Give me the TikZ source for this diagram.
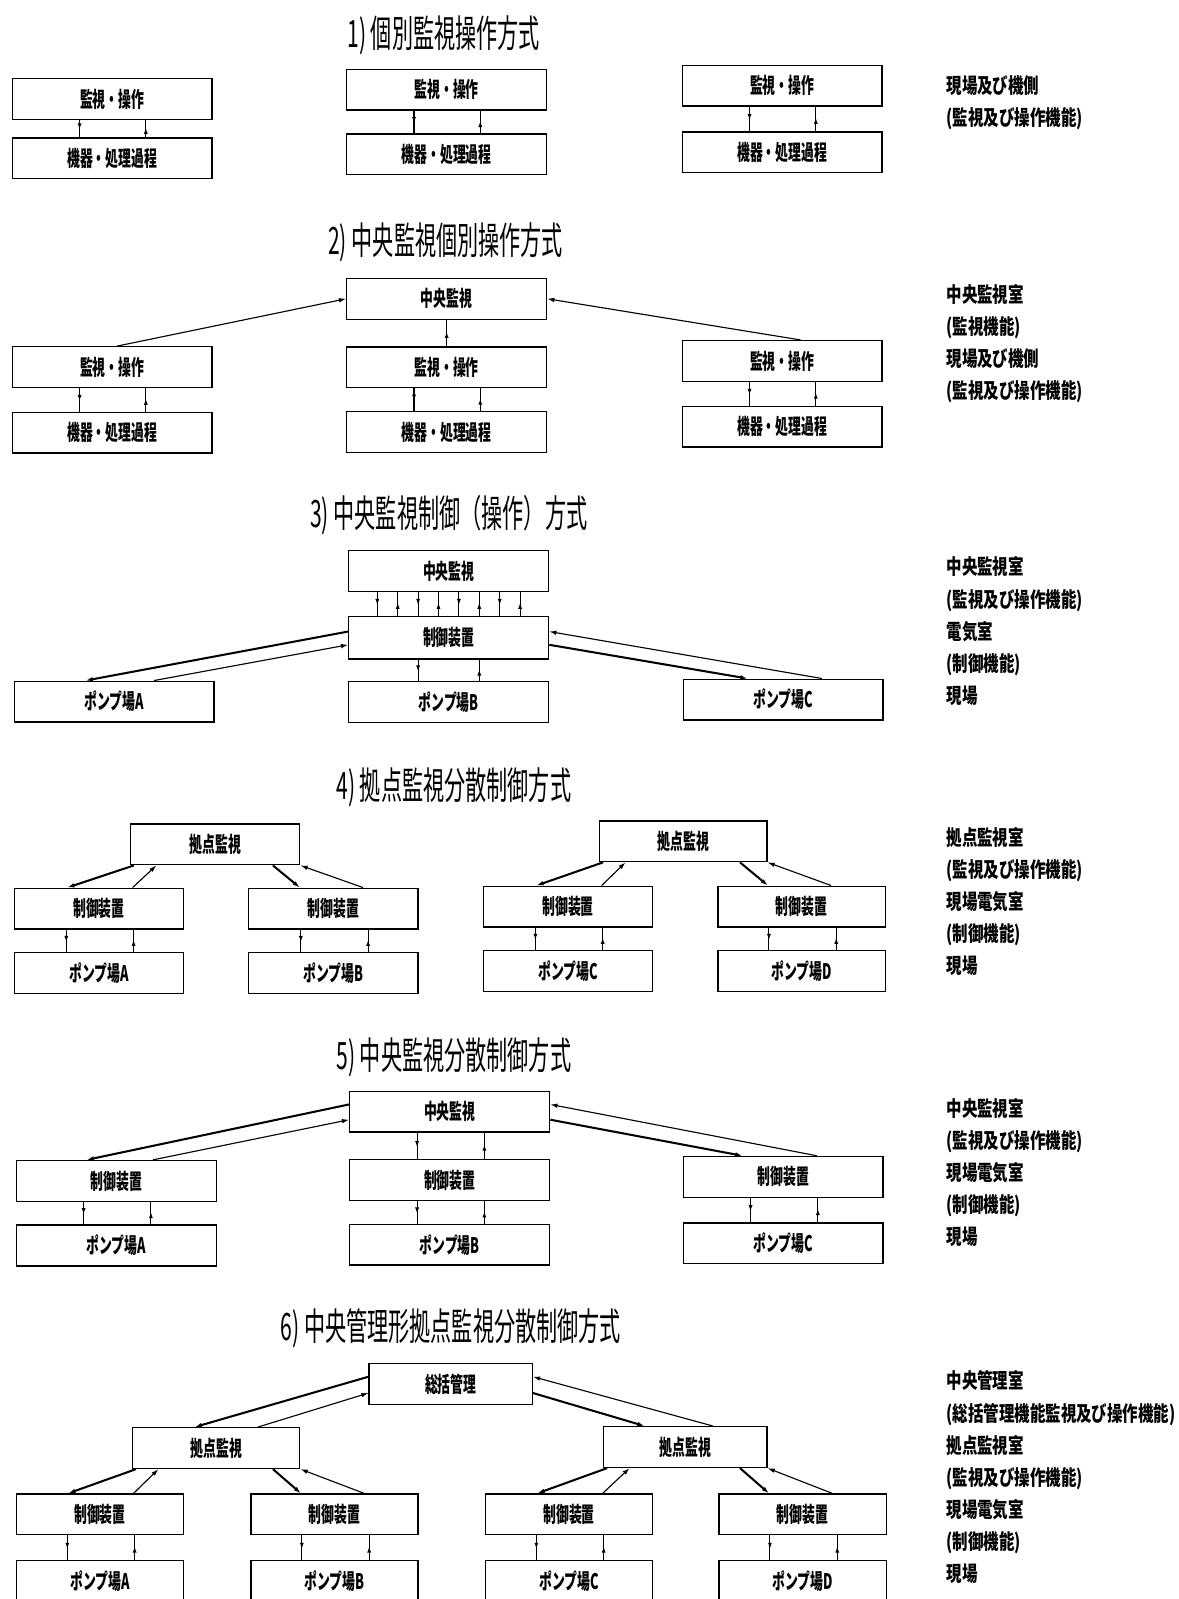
\documentclass[tikz,border=0pt]{standalone}
\usepackage{fontspec}
\usepackage{tikz}
\usetikzlibrary{arrows.meta,positioning,decorations.markings}
\newfontfamily\boxfont[FakeStretch=0.6]{Noto Sans CJK JP}
\newfontfamily\titlefont[FakeStretch=0.56]{Noto Sans CJK JP}
\newfontfamily\notefont[FakeStretch=0.74]{Noto Sans CJK JP}
\tikzset{
  unitbox/.style={draw=black,line width=1.3pt,minimum width=196pt,minimum height=40pt,
    inner sep=0pt,font={\boxfont\bfseries\fontsize{21}{23}\selectfont}},
  hubbox/.style={unitbox,minimum width=166pt},
  topbox/.style={unitbox,minimum width=160pt},
  titletext/.style={font={\titlefont\fontsize{37}{39}\selectfont},inner sep=0pt},
  roomnote/.style={font={\notefont\bfseries\fontsize{20.5}{31.5}\selectfont},align=left,
    anchor=north west,inner sep=0pt},
  sigline/.style={draw=black,line width=1.1pt},
  midsig/.style={sigline,postaction={decorate},decoration={markings,
    mark=at position 0.55 with {\arrow{Latex[length=6pt,width=4pt]}}}},
  endsig/.style={sigline,-{Latex[length=7pt,width=4.5pt]}},
  cmdsig/.style={endsig,line width=2pt}
}
\begin{document}
\begin{tikzpicture}[x=1pt,y=-1pt,node distance=22pt]
  \useasboundingbox (0,0) rectangle (1156,1568);
  % 1) individual
  \node[titletext] (title1) at (435,35) {1) 個別監視操作方式};
  \node[unitbox] (op1a) at (110,97) {監視・操作};
  \node[unitbox,below=17pt of op1a] (eq1a) {機器・処理過程};
  \node[unitbox] (op1b) at (438,88) {監視・操作};
  \node[unitbox,below=of op1b] (eq1b) {機器・処理過程};
  \node[unitbox] (op1c) at (767,84) {監視・操作};
  \node[unitbox,below=24pt of op1c] (eq1c) {機器・処理過程};
  \node[roomnote] (room1) at (928,74) {現場及び機側\\(監視及び操作機能)};
  \draw[midsig] ([xshift=-32pt]op1a.south) -- ([xshift=-32pt]eq1a.north);
  \draw[midsig] ([xshift=33pt]eq1a.north) -- ([xshift=33pt]op1a.south);
  \draw[midsig] ([xshift=-32pt]op1b.south) -- ([xshift=-32pt]eq1b.north);
  \draw[midsig] ([xshift=33pt]eq1b.north) -- ([xshift=33pt]op1b.south);
  \draw[midsig] ([xshift=-32pt]op1c.south) -- ([xshift=-32pt]eq1c.north);
  \draw[midsig] ([xshift=33pt]eq1c.north) -- ([xshift=33pt]op1c.south);

  % 2) central monitoring
  \node[titletext] (title2) at (437,238) {2) 中央監視個別操作方式};
  \node[unitbox] (cen2) at (438,293) {中央監視};
  \node[unitbox,below=26pt of cen2] (op2b) {監視・操作};
  \node[unitbox,below=of op2b] (eq2b) {機器・処理過程};
  \node[unitbox] (op2a) at (110,360) {監視・操作};
  \node[unitbox,below=23pt of op2a] (eq2a) {機器・処理過程};
  \node[unitbox] (op2c) at (767,354) {監視・操作};
  \node[unitbox,below=23pt of op2c] (eq2c) {機器・処理過程};
  \node[roomnote] (room2) at (928,279) {中央監視室\\(監視機能)\\現場及び機側\\(監視及び操作機能)};
  \draw[endsig] ([xshift=5pt]op2a.north) -- (cen2.west);
  \draw[endsig] ([xshift=18pt]op2c.north) -- (cen2.east);
  \draw[midsig] (op2b.north) -- (cen2.south);
  \draw[midsig] ([xshift=-32pt]op2a.south) -- ([xshift=-32pt]eq2a.north);
  \draw[midsig] ([xshift=33pt]eq2a.north) -- ([xshift=33pt]op2a.south);
  \draw[midsig] ([xshift=-32pt]op2b.south) -- ([xshift=-32pt]eq2b.north);
  \draw[midsig] ([xshift=33pt]eq2b.north) -- ([xshift=33pt]op2b.south);
  \draw[midsig] ([xshift=-32pt]op2c.south) -- ([xshift=-32pt]eq2c.north);
  \draw[midsig] ([xshift=33pt]eq2c.north) -- ([xshift=33pt]op2c.south);

  % 3) central monitoring and control
  \node[titletext] (title3) at (440,505) {3) 中央監視制御（操作）方式};
  \node[unitbox] (cen3) at (440,560) {中央監視};
  \node[unitbox,minimum height=42pt,below=23pt of cen3] (ctl3) {制御装置};
  \node[unitbox,below=21pt of ctl3] (pmp3b) {ポンプ場B};
  \node[unitbox] (pmp3a) at (112,688) {ポンプ場A};
  \node[unitbox] (pmp3c) at (768,686) {ポンプ場C};
  \node[roomnote] (room3) at (928,546) {中央監視室\\(監視及び操作機能)\\電気室\\(制御機能)\\現場};
  \draw[midsig] ([xshift=-70pt]cen3.south) -- ([xshift=-70pt]ctl3.north);
  \draw[midsig] ([xshift=-50pt]ctl3.north) -- ([xshift=-50pt]cen3.south);
  \draw[midsig] ([xshift=-30pt]cen3.south) -- ([xshift=-30pt]ctl3.north);
  \draw[midsig] ([xshift=-10pt]ctl3.north) -- ([xshift=-10pt]cen3.south);
  \draw[midsig] ([xshift=10pt]cen3.south) -- ([xshift=10pt]ctl3.north);
  \draw[midsig] ([xshift=30pt]ctl3.north) -- ([xshift=30pt]cen3.south);
  \draw[midsig] ([xshift=50pt]cen3.south) -- ([xshift=50pt]ctl3.north);
  \draw[midsig] ([xshift=70pt]ctl3.north) -- ([xshift=70pt]cen3.south);
  \draw[cmdsig] ([yshift=6pt]ctl3.west) -- ([xshift=-28pt]pmp3a.north);
  \draw[endsig] ([xshift=39pt]pmp3a.north) -- ([yshift=-7pt]ctl3.west);
  \draw[endsig] ([xshift=38pt]pmp3c.north) -- ([yshift=6pt]ctl3.east);
  \draw[cmdsig] ([yshift=-7pt]ctl3.east) -- ([xshift=-35pt]pmp3c.north);
  \draw[midsig] ([xshift=-30pt]ctl3.south) -- ([xshift=-30pt]pmp3b.north);
  \draw[midsig] ([xshift=30pt]pmp3b.north) -- ([xshift=30pt]ctl3.south);

  % 4) local-base monitoring
  \node[titletext] (title4) at (445,772) {4) 拠点監視分散制御方式};
  \node[hubbox] (hub4a) at (211,828) {拠点監視};
  \node[hubbox,minimum width=164pt] (hub4b) at (670,825) {拠点監視};
  \node[hubbox] (ctl4a) at (97,891) {制御装置};
  \node[hubbox] (ctl4b) at (327,891) {制御装置};
  \node[hubbox] (ctl4c) at (557,889) {制御装置};
  \node[hubbox,minimum width=164pt] (ctl4d) at (786,889) {制御装置};
  \node[hubbox,below=of ctl4a] (pmp4a) {ポンプ場A};
  \node[hubbox,below=of ctl4b] (pmp4b) {ポンプ場B};
  \node[hubbox,below=of ctl4c] (pmp4c) {ポンプ場C};
  \node[hubbox,minimum width=164pt,below=of ctl4d] (pmp4d) {ポンプ場D};
  \node[roomnote] (room4) at (928,811) {拠点監視室\\(監視及び操作機能)\\現場電気室\\(制御機能)\\現場};
  \draw[cmdsig] ([xshift=4pt]hub4a.south west) -- ([xshift=-31pt]ctl4a.north);
  \draw[endsig] ([xshift=33pt]ctl4a.north) -- ([xshift=26pt]hub4a.south west);
  \draw[cmdsig] ([xshift=-27pt]hub4a.south east) -- ([xshift=-33pt]ctl4b.north);
  \draw[endsig] ([xshift=29pt]ctl4b.north) -- (hub4a.south east);
  \draw[cmdsig] ([xshift=4pt]hub4b.south west) -- ([xshift=-31pt]ctl4c.north);
  \draw[endsig] ([xshift=33pt]ctl4c.north) -- ([xshift=26pt]hub4b.south west);
  \draw[cmdsig] ([xshift=-27pt]hub4b.south east) -- ([xshift=-33pt]ctl4d.north);
  \draw[endsig] ([xshift=29pt]ctl4d.north) -- (hub4b.south east);
  \draw[midsig] ([xshift=-32pt]ctl4a.south) -- ([xshift=-32pt]pmp4a.north);
  \draw[midsig] ([xshift=34pt]pmp4a.north) -- ([xshift=34pt]ctl4a.south);
  \draw[midsig] ([xshift=-32pt]ctl4b.south) -- ([xshift=-32pt]pmp4b.north);
  \draw[midsig] ([xshift=34pt]pmp4b.north) -- ([xshift=34pt]ctl4b.south);
  \draw[midsig] ([xshift=-32pt]ctl4c.south) -- ([xshift=-32pt]pmp4c.north);
  \draw[midsig] ([xshift=34pt]pmp4c.north) -- ([xshift=34pt]ctl4c.south);
  \draw[midsig] ([xshift=-32pt]ctl4d.south) -- ([xshift=-32pt]pmp4d.north);
  \draw[midsig] ([xshift=34pt]pmp4d.north) -- ([xshift=34pt]ctl4d.south);

  % 5) central monitoring, distributed control
  \node[titletext] (title5) at (445,1037) {5) 中央監視分散制御方式};
  \node[unitbox] (cen5) at (441,1090) {中央監視};
  \node[unitbox,below=26pt of cen5] (ctl5b) {制御装置};
  \node[unitbox,below=of ctl5b] (pmp5b) {ポンプ場B};
  \node[unitbox] (ctl5a) at (114,1158) {制御装置};
  \node[unitbox,below=of ctl5a] (pmp5a) {ポンプ場A};
  \node[unitbox] (ctl5c) at (768,1154) {制御装置};
  \node[unitbox,below=24pt of ctl5c] (pmp5c) {ポンプ場C};
  \node[roomnote] (room5) at (928,1077) {中央監視室\\(監視及び操作機能)\\現場電気室\\(制御機能)\\現場};
  \draw[cmdsig] ([yshift=7pt]cen5.west) -- ([xshift=-29pt]ctl5a.north);
  \draw[endsig] ([xshift=36pt]ctl5a.north) -- ([yshift=-8pt]cen5.west);
  \draw[endsig] ([xshift=33pt]ctl5c.north) -- ([yshift=7pt]cen5.east);
  \draw[cmdsig] ([yshift=-8pt]cen5.east) -- ([xshift=-40pt]ctl5c.north);
  \draw[midsig] ([xshift=-32pt]cen5.south) -- ([xshift=-32pt]ctl5b.north);
  \draw[midsig] ([xshift=34pt]ctl5b.north) -- ([xshift=34pt]cen5.south);
  \draw[midsig] ([xshift=-32pt]ctl5a.south) -- ([xshift=-32pt]pmp5a.north);
  \draw[midsig] ([xshift=34pt]pmp5a.north) -- ([xshift=34pt]ctl5a.south);
  \draw[midsig] ([xshift=-32pt]ctl5b.south) -- ([xshift=-32pt]pmp5b.north);
  \draw[midsig] ([xshift=34pt]pmp5b.north) -- ([xshift=34pt]ctl5b.south);
  \draw[midsig] ([xshift=-32pt]ctl5c.south) -- ([xshift=-32pt]pmp5c.north);
  \draw[midsig] ([xshift=34pt]pmp5c.north) -- ([xshift=34pt]ctl5c.south);

  % 6) central management with local bases
  \node[titletext] (title6) at (442,1302) {6) 中央管理形拠点監視分散制御方式};
  \node[topbox] (top6) at (442,1357) {総括管理};
  \node[hubbox,minimum width=164pt] (hub6a) at (212,1420) {拠点監視};
  \node[topbox] (hub6b) at (672,1419) {拠点監視};
  \node[hubbox,minimum width=164pt] (ctl6a) at (98,1485) {制御装置};
  \node[hubbox,minimum width=164pt] (ctl6b) at (328,1485) {制御装置};
  \node[hubbox,minimum width=164pt] (ctl6c) at (558,1485) {制御装置};
  \node[hubbox,minimum width=164pt] (ctl6d) at (787,1485) {制御装置};
  \node[hubbox,minimum width=164pt,below=24pt of ctl6a] (pmp6a) {ポンプ場A};
  \node[hubbox,minimum width=164pt,below=24pt of ctl6b] (pmp6b) {ポンプ場B};
  \node[hubbox,minimum width=164pt,below=24pt of ctl6c] (pmp6c) {ポンプ場C};
  \node[hubbox,minimum width=164pt,below=24pt of ctl6d] (pmp6d) {ポンプ場D};
  \node[roomnote] (room6) at (928,1344) {中央管理室\\(総括管理機能監視及び操作機能)\\拠点監視室\\(監視及び操作機能)\\現場電気室\\(制御機能)\\現場};
  \draw[cmdsig] ([yshift=7pt]top6.west) -- ([xshift=-21pt]hub6a.north);
  \draw[endsig] ([xshift=41pt]hub6a.north) -- ([yshift=-9pt]top6.west);
  \draw[endsig] ([xshift=27pt]hub6b.north) -- ([yshift=7pt]top6.east);
  \draw[cmdsig] ([yshift=-9pt]top6.east) -- ([xshift=-40pt]hub6b.north);
  \draw[cmdsig] ([xshift=4pt]hub6a.south west) -- ([xshift=-31pt]ctl6a.north);
  \draw[endsig] ([xshift=33pt]ctl6a.north) -- ([xshift=26pt]hub6a.south west);
  \draw[cmdsig] ([xshift=-27pt]hub6a.south east) -- ([xshift=-33pt]ctl6b.north);
  \draw[endsig] ([xshift=29pt]ctl6b.north) -- (hub6a.south east);
  \draw[cmdsig] ([xshift=4pt]hub6b.south west) -- ([xshift=-31pt]ctl6c.north);
  \draw[endsig] ([xshift=33pt]ctl6c.north) -- ([xshift=26pt]hub6b.south west);
  \draw[cmdsig] ([xshift=-27pt]hub6b.south east) -- ([xshift=-33pt]ctl6d.north);
  \draw[endsig] ([xshift=29pt]ctl6d.north) -- (hub6b.south east);
  \draw[midsig] ([xshift=-32pt]ctl6a.south) -- ([xshift=-32pt]pmp6a.north);
  \draw[midsig] ([xshift=34pt]pmp6a.north) -- ([xshift=34pt]ctl6a.south);
  \draw[midsig] ([xshift=-32pt]ctl6b.south) -- ([xshift=-32pt]pmp6b.north);
  \draw[midsig] ([xshift=34pt]pmp6b.north) -- ([xshift=34pt]ctl6b.south);
  \draw[midsig] ([xshift=-32pt]ctl6c.south) -- ([xshift=-32pt]pmp6c.north);
  \draw[midsig] ([xshift=34pt]pmp6c.north) -- ([xshift=34pt]ctl6c.south);
  \draw[midsig] ([xshift=-32pt]ctl6d.south) -- ([xshift=-32pt]pmp6d.north);
  \draw[midsig] ([xshift=34pt]pmp6d.north) -- ([xshift=34pt]ctl6d.south);
\end{tikzpicture}
\end{document}
